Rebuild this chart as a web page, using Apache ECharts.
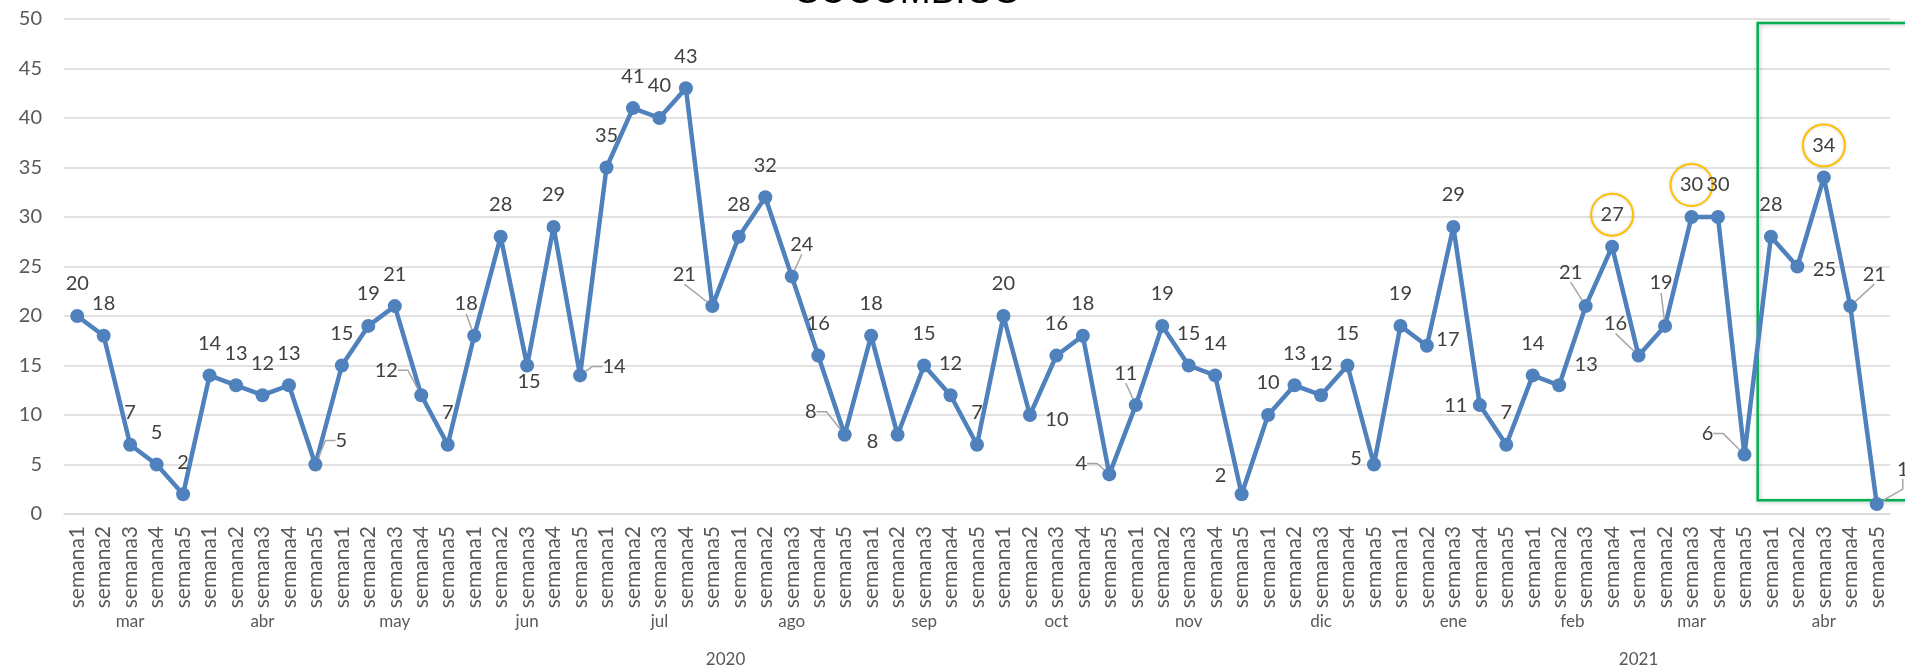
<!DOCTYPE html>
<html><head><meta charset="utf-8">
<script src="https://cdn.jsdelivr.net/npm/echarts@6/dist/echarts.min.js"></script>
<style>html,body{margin:0;padding:0;background:#fff}#c{width:1905px;height:668px}</style>
</head><body><div id="c"></div>
<script>
// ---- data ----
const titleText = 'SUCUMBIOS';
const years = ['2020', '2021'];
const monthsByYear = [
  ['mar','abr','may','jun','jul','ago','sep','oct','nov','dic'],
  ['ene','feb','mar','abr']
];
const weeksPerMonth = [
  [5,5,5,5,5,5,5,5,5,5],
  [5,4,5,5]
];
const cases = [
  20,18,7,5,2,   14,13,12,13,5,  15,19,21,12,7,  18,28,15,29,14,
  35,41,40,43,21, 28,32,24,16,8,  18,8,15,12,7,   20,10,16,18,4,
  11,19,15,14,2,  10,13,12,15,5,
  19,17,29,11,7,  14,13,21,27,    16,19,30,30,6,  28,25,34,21,1
];
const yMin = 0, yMax = 50, yStep = 5;

// annotations
const circledPoints = [58, 61, 66];
const boxedRange = { fromIndex: 63.5, top: 49.6, bottom: 1.4 };

// label placement (offset of label centre from its point, px) and leader lines
const labelOffset = {
  9:[26,-24], 13:[-35,-25], 15:[-8,-32], 17:[2,16], 19:[34,-9], 24:[-28,-32],
  27:[10,-32], 29:[-34,-23], 31:[-25,7], 36:[27,5], 39:[-28,-11], 40:[-10,-32],
  44:[-21,-19], 49:[-18,-6], 51:[21,-6], 53:[-24,0], 56:[27,-21], 57:[-15,-34],
  59:[-23,-32], 60:[-4,-43], 63:[-37,-21], 65:[27,3], 67:[24,-32], 68:[26,-35]
};
const leaderElbow = [9, 13, 19, 29, 39, 63, 68];
const leaderStraight = [15, 24, 27, 40, 57, 59, 60, 67];

// ---- derived categories ----
const weeks = [];
const monthLabels = {};
const yearLabels = {};
let idx = 0;
monthsByYear.forEach((ms, y) => {
  const yStart = idx;
  ms.forEach((m, k) => {
    const n = weeksPerMonth[y][k];
    monthLabels[Math.round((idx + (n - 1) / 2) * 2)] = m;
    for (let w = 1; w <= n; w++) weeks.push('semana' + w);
    idx += n;
  });
  yearLabels[Math.round((yStart + (idx - 1 - yStart) / 2) * 2)] = years[y];
});
const nCat = weeks.length;

const FONT = 'Lato';
const GRAY = '#595959';

const seriesData = cases.map((v, i) => {
  const item = { value: v };
  if (leaderElbow.includes(i) || leaderStraight.includes(i)) {
    item.labelLine = { show: true, length2: leaderElbow.includes(i) ? 10 : 0 };
  }
  if (circledPoints.includes(i)) {
    item.label = {
      width: 42, height: 42, lineHeight: 42, borderRadius: 21,
      borderColor: '#FFC000', borderWidth: 2,
      shadowColor: 'rgba(0,0,0,0.18)', shadowBlur: 3
    };
  }
  return item;
});

const chart = echarts.init(document.getElementById('c'));
chart.setOption({
  animation: false,
  backgroundColor: '#ffffff',
  title: {
    text: titleText, left: 795, top: -26, padding: 0,
    textStyle: { fontFamily: 'Liberation Sans', fontSize: 37, fontWeight: 'normal', color: '#000' }
  },
  grid: { left: 64, right: 15, top: 19, bottom: 153, containLabel: false },
  xAxis: [
    {
      type: 'category', data: weeks, boundaryGap: true,
      axisLine: { show: true, lineStyle: { color: '#D9D9D9', width: 1.5 } },
      axisTick: { show: false },
      axisLabel: { interval: 0, rotate: 90, margin: 12, fontFamily: FONT, fontSize: 21, color: GRAY }
    },
    {
      type: 'value', min: -0.5, max: nCat - 0.5, interval: 0.5, position: 'bottom', offset: 99,
      axisLine: { show: false }, axisTick: { show: false }, splitLine: { show: false },
      axisLabel: {
        margin: 0, fontFamily: FONT, fontSize: 17, color: GRAY, showMinLabel: true, showMaxLabel: true,
        formatter: v => monthLabels[Math.round(v * 2)] || ''
      }
    },
    {
      type: 'value', min: -0.5, max: nCat - 0.5, interval: 0.5, position: 'bottom', offset: 137,
      axisLine: { show: false }, axisTick: { show: false }, splitLine: { show: false },
      axisLabel: {
        margin: 0, fontFamily: FONT, fontSize: 17, color: GRAY,
        formatter: v => yearLabels[Math.round(v * 2)] || ''
      }
    }
  ],
  yAxis: {
    type: 'value', min: yMin, max: yMax, interval: yStep,
    axisLine: { show: false }, axisTick: { show: false },
    splitLine: { lineStyle: { color: '#D9D9D9', width: 1.5 } },
    axisLabel: { margin: 22, fontFamily: FONT, fontSize: 20, color: GRAY }
  },
  series: [
    {
      type: 'line', data: seriesData, xAxisIndex: 0,
      symbol: 'circle', symbolSize: 14,
      lineStyle: { color: '#4F81BD', width: 4.5 },
      itemStyle: { color: '#4F81BD' },
      label: { show: true, position: 'top', fontFamily: FONT, fontSize: 20, color: '#404040' },
      labelLine: { show: false, smooth: false, lineStyle: { color: '#A6A6A6', width: 1.5 } },
      labelLayout: function (p) {
        const o = labelOffset[p.dataIndex] || [0, -32];
        const r = p.rect;
        return { x: r.x + r.width / 2 + o[0], y: r.y + r.height / 2 + o[1], align: 'center', verticalAlign: 'middle' };
      },
      z: 3
    }
  ]
});

// green highlight box around the last month, positioned through the axes' scales
const finder = { xAxisIndex: 1, yAxisIndex: 0 };
const p0 = chart.convertToPixel(finder, [boxedRange.fromIndex, boxedRange.top]);
const p1 = chart.convertToPixel(finder, [nCat + 2, boxedRange.bottom]);
chart.setOption({
  graphic: [{
    type: 'rect', z: 1, silent: true,
    shape: { x: p0[0], y: p0[1], width: p1[0] - p0[0], height: p1[1] - p0[1] },
    style: { fill: 'none', stroke: '#00B050', lineWidth: 2.5,
      shadowColor: 'rgba(0,0,0,0.25)', shadowBlur: 4, shadowOffsetX: 1, shadowOffsetY: 1 }
  }]
});
</script>
</body></html>
